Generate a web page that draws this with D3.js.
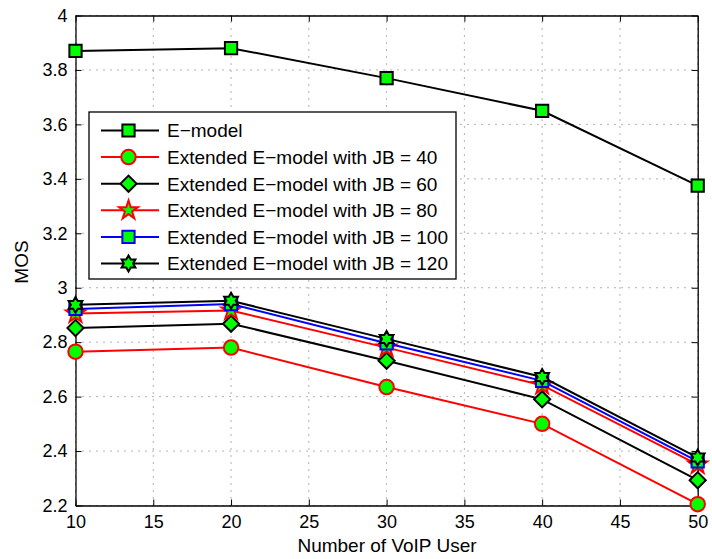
<!DOCTYPE html>
<html>
<head>
<meta charset="utf-8">
<script src="https://cdn.jsdelivr.net/npm/d3@7"></script>
<style>
  html, body { margin: 0; padding: 0; background: #fff; }
  text { font-family: "Liberation Sans", Arial, Helvetica, sans-serif; }
</style>
</head>
<body>
<svg id="chart" width="712" height="559"></svg>
<script>
const users = [10, 20, 30, 40, 50];
const xTicks = [10, 15, 20, 25, 30, 35, 40, 45, 50];
const yTicks = [2.2, 2.4, 2.6, 2.8, 3, 3.2, 3.4, 3.6, 3.8, 4];
const seriesNames = [
  "E\u2212model",
  "Extended E\u2212model with JB = 40",
  "Extended E\u2212model with JB = 60",
  "Extended E\u2212model with JB = 80",
  "Extended E\u2212model with JB = 100",
  "Extended E\u2212model with JB = 120"
];
const eModel = [3.87, 3.88, 3.77, 3.65, 3.375];
const jb40  = [2.765, 2.78, 2.635, 2.50, 2.205];
const jb60  = [2.852, 2.868, 2.732, 2.59, 2.293];
const jb80  = [2.905, 2.916, 2.78, 2.642, 2.35];
const jb100 = [2.922, 2.94, 2.796, 2.658, 2.362];
const jb120 = [2.937, 2.952, 2.812, 2.672, 2.376];
const seriesValues = [eModel, jb40, jb60, jb80, jb100, jb120];
const lineColors = ["#000000", "#ff0000", "#000000", "#ff0000", "#0000ff", "#000000"];
const markerKinds = ["square", "circle", "diamond", "star", "square", "hexagram"];

const svg = d3.select("#chart");
const margin = { left: 75.5, right: 712 - 697.7, top: 15.5, bottom: 559 - 505.5 };
const W = 712, H = 559;
const x = d3.scaleLinear().domain([10, 50]).range([margin.left, W - margin.right]);
const y = d3.scaleLinear().domain([2.2, 4]).range([H - margin.bottom, margin.top]);

const hexagram = {
  draw(ctx, size) {
    const r = Math.sqrt(size) * 0.62;
    const ri = r / Math.sqrt(3);
    for (let i = 0; i < 12; i++) {
      const a = -Math.PI / 2 + i * Math.PI / 6;
      const rr = i % 2 === 0 ? r : ri;
      const px = rr * Math.cos(a), py = rr * Math.sin(a);
      if (i === 0) ctx.moveTo(px, py); else ctx.lineTo(px, py);
    }
    ctx.closePath();
  }
};
function markerPath(kind) {
  if (kind === "square") return d3.symbol(d3.symbolSquare, 150)();
  if (kind === "circle") return d3.symbol(d3.symbolCircle, 165)();
  if (kind === "diamond") return d3.symbol(d3.symbolSquare, 130)();
  if (kind === "star") return d3.symbol(d3.symbolStar, 110)();
  if (kind === "hexagram") return d3.symbol(hexagram, 165)();
}
function markerTransform(kind, px, py) {
  return kind === "diamond" ? `translate(${px},${py}) rotate(45)` : `translate(${px},${py})`;
}

// grid
const grid = svg.append("g");
xTicks.forEach(t => {
  grid.append("line").attr("x1", x(t)).attr("x2", x(t)).attr("y1", y(2.2)).attr("y2", y(4))
    .attr("stroke", "#000").attr("stroke-width", 0.8).attr("stroke-dasharray", "1,6").attr("opacity", 0.75);
});
yTicks.forEach(t => {
  grid.append("line").attr("x1", x(10)).attr("x2", x(50)).attr("y1", y(t)).attr("y2", y(t))
    .attr("stroke", "#000").attr("stroke-width", 0.8).attr("stroke-dasharray", "1,6").attr("opacity", 0.75);
});

// axes (MATLAB style box with inward ticks)
const tickLen = 6;
const xAxisB = d3.axisBottom(x).tickValues(xTicks).tickSizeInner(-tickLen).tickSizeOuter(0).tickPadding(10).tickFormat(d3.format("d"));
const xAxisT = d3.axisTop(x).tickValues(xTicks).tickSizeInner(-tickLen).tickSizeOuter(0).tickFormat("");
const yAxisL = d3.axisLeft(y).tickValues(yTicks).tickSizeInner(-tickLen).tickSizeOuter(0).tickPadding(8).tickFormat(d => d3.format("")(+d.toFixed(1)));
const yAxisR = d3.axisRight(y).tickValues(yTicks).tickSizeInner(-tickLen).tickSizeOuter(0).tickFormat("");

function styleAxis(g) {
  g.select(".domain").attr("stroke", "#000").attr("stroke-width", 1.3);
  g.selectAll(".tick line").attr("stroke", "#000").attr("stroke-width", 1);
  g.selectAll("text").attr("font-size", 18).attr("fill", "#000")
    .style("font-family", '"Liberation Sans", Arial, sans-serif');
}
svg.append("g").attr("transform", `translate(0,${y(2.2)})`).call(xAxisB).call(styleAxis);
svg.append("g").attr("transform", `translate(0,${y(4)})`).call(xAxisT).call(styleAxis);
svg.append("g").attr("transform", `translate(${x(10)},0)`).call(yAxisL).call(styleAxis);
svg.append("g").attr("transform", `translate(${x(50)},0)`).call(yAxisR).call(styleAxis);

// axis labels
svg.append("text").attr("x", 387).attr("y", 552).attr("text-anchor", "middle")
  .attr("font-size", 19).text("Number of VoIP User");
svg.append("text").attr("transform", `translate(28,262) rotate(-90)`)
  .attr("text-anchor", "middle").attr("font-size", 19).text("MOS");

// series
const line = d3.line().x((d, i) => x(users[i])).y(d => y(d));
seriesValues.forEach((vals, si) => {
  const g = svg.append("g");
  g.append("path").attr("d", line(vals)).attr("fill", "none")
    .attr("stroke", lineColors[si]).attr("stroke-width", 2);
  g.selectAll("path.m").data(vals).enter().append("path").attr("class", "m")
    .attr("d", markerPath(markerKinds[si]))
    .attr("transform", (d, i) => markerTransform(markerKinds[si], x(users[i]), y(d)))
    .attr("fill", "#00ff00").attr("stroke", lineColors[si]).attr("stroke-width", 2);
});

// legend
const lg = svg.append("g");
const lx = 89, ly = 112, lw = 367, lh = 167, rowH = 26.6;
lg.append("rect").attr("x", lx).attr("y", ly).attr("width", lw).attr("height", lh)
  .attr("fill", "#fff").attr("stroke", "#000").attr("stroke-width", 1.3);
seriesNames.forEach((name, si) => {
  const cy = ly + 18.5 + si * rowH;
  lg.append("line").attr("x1", lx + 12).attr("x2", lx + 70).attr("y1", cy).attr("y2", cy)
    .attr("stroke", lineColors[si]).attr("stroke-width", 2);
  lg.append("path").attr("d", markerPath(markerKinds[si]))
    .attr("transform", markerTransform(markerKinds[si], lx + 39.5, cy))
    .attr("fill", "#00ff00").attr("stroke", lineColors[si]).attr("stroke-width", 2);
  lg.append("text").attr("x", lx + 78).attr("y", cy).attr("dy", "0.36em")
    .attr("font-size", 19).text(name);
});
</script>
</body>
</html>
